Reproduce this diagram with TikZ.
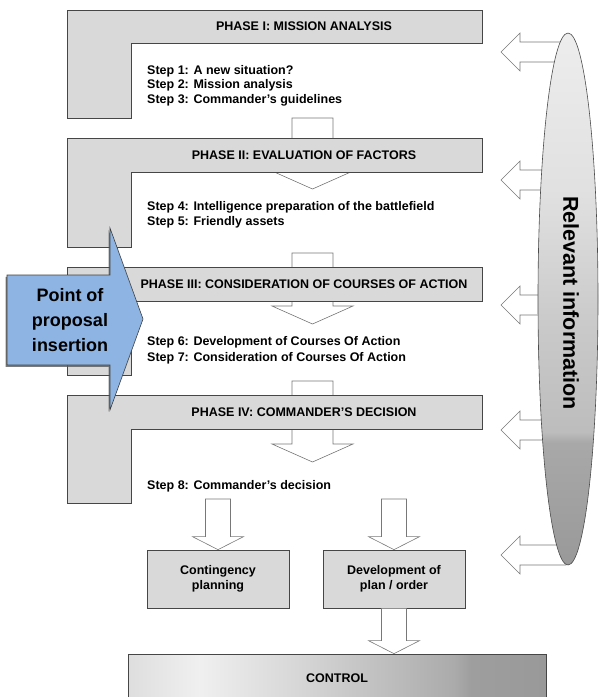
\documentclass[tikz,border=0pt]{standalone}
\usepackage{fontspec}
\setmainfont{Liberation Sans}
\definecolor{phasegray}{RGB}{217, 217, 217}
\definecolor{edgegray}{RGB}{70, 70, 70}
\definecolor{arrowgray}{RGB}{120, 120, 120}
\definecolor{insertblue}{RGB}{141, 180, 226}
\usepackage{tikz}
\usetikzlibrary{shapes.geometric, calc, shadows}

\pgfdeclarehorizontalshading{ctrlshade}{100bp}{color(0bp)=(black!13); color(25bp)=(black!13); color(33.5bp)=(black!6); color(45.5bp)=(black!16); color(57.5bp)=(black!27); color(64bp)=(black!33); color(66bp)=(black!38); color(75bp)=(black!40); color(100bp)=(black!40)}
\pgfdeclareverticalshading{infoshade}{100bp}{color(0bp)=(black!40); color(25bp)=(black!40); color(36.5bp)=(black!34); color(37.5bp)=(black!26); color(47.5bp)=(black!21); color(60bp)=(black!12); color(75bp)=(black!7); color(100bp)=(black!7)}

% L-shaped phase frame: top of bar, bottom of bar, bottom of leg
\newcommand{\phaseshape}[3]{\draw[phasebox] (67,#1) -- (482,#1) -- (482,#2) -- (131,#2) -- (131,#3) -- (67,#3) -- cycle;}
% block arrow: [style]{from}{to}{shaft half width}{head half width}{head length}
\newcommand{\blockarrow}[6][]{%
  \coordinate (hb) at ($(#3)!#6!(#2)$);
  \draw[blockarr, #1] ($(#2)!#4!90:(#3)$) -- ($(hb)!#4!90:(#3)$) -- ($(hb)!#5!90:(#3)$) -- (#3)
    -- ($(hb)!#5!-90:(#3)$) -- ($(hb)!#4!-90:(#3)$) -- ($(#2)!#4!-90:(#3)$) -- cycle;}

\begin{document}
\begin{tikzpicture}[x=1pt, y=-1pt,
  txt/.style={font=\fontsize{12.5}{15}\selectfont\bfseries},
  phasebox/.style={draw=edgegray, fill=phasegray, line width=0.7pt},
  phasetitle/.style={txt, inner sep=0pt},
  stepline/.style={txt, anchor=west, inner sep=0pt, text height=9pt, text depth=0pt},
  subbox/.style={txt, draw=edgegray, fill=phasegray, line width=0.7pt, minimum width=142pt, minimum height=58pt, align=center, inner sep=0pt},
  blockarr/.style={draw=arrowgray, fill=white, line width=0.6pt, line join=miter}]
  \useasboundingbox (0,0) rectangle (603,697);

  % Arrows between phases
  \coordinate (a12) at (312.5,118);  \coordinate (a12e) at (312.5,189);
  \coordinate (a23) at (312.5,253);  \coordinate (a23e) at (312.5,324);
  \coordinate (a34) at (312.5,381);  \coordinate (a34e) at (312.5,462);
  \blockarrow{a12}{a12e}{20.5pt}{40.5pt}{18pt}
  \blockarrow{a23}{a23e}{20.5pt}{40.5pt}{18pt}
  \blockarrow{a34}{a34e}{20.5pt}{40.5pt}{18pt}

  % Information arrows
  \foreach \y [count=\i] in {52, 180, 305, 430, 555} {
    \coordinate (src\i) at (566,\y);
    \coordinate (dst\i) at (501,\y);
    \blockarrow{src\i}{dst\i}{10pt}{19pt}{19pt}
  }

  % Phase I
  \phaseshape{10}{43}{118}
  \node[phasetitle] (ph1) at (304,26.5) {PHASE I: MISSION ANALYSIS};
  \node[stepline] (s1) at (147,70) {Step 1: A new situation?};
  \node[stepline] (s2) at (147,84) {Step 2: Mission analysis};
  \node[stepline] (s3) at (147,98.5) {Step 3: Commander's guidelines};

  % Phase II
  \phaseshape{138}{172}{247}
  \node[phasetitle] (ph2) at (304,155) {PHASE II: EVALUATION OF FACTORS};
  \node[stepline] (s4) at (147,206) {Step 4: Intelligence preparation of the battlefield};
  \node[stepline] (s5) at (147,221) {Step 5: Friendly assets};

  % Phase III
  \phaseshape{267}{301}{375}
  \node[phasetitle] (ph3) at (304,284) {PHASE III: CONSIDERATION OF COURSES OF ACTION};
  \node[stepline] (s6) at (147,341) {Step 6: Development of Courses Of Action};
  \node[stepline] (s7) at (147,357) {Step 7: Consideration of Courses Of Action};

  % Phase IV
  \phaseshape{395}{429}{503}
  \node[phasetitle] (ph4) at (304,412) {PHASE IV: COMMANDER’S DECISION};
  \node[stepline] (s8) at (147,485) {Step 8: Commander's decision};

  % After the decision
  \node[subbox] (cont) at (218,579) {Contingency\\planning};
  \node[subbox] (devplan) at (394,579) {Development of\\plan / order};
  \coordinate (d8l) at (218,499);
  \coordinate (d8r) at (394,499);
  \blockarrow{d8l}{cont.north}{12.5pt}{25.5pt}{13pt}
  \blockarrow{d8r}{devplan.north}{12.5pt}{25.5pt}{13pt}

  % Control
  \node[txt, draw=edgegray, line width=0.7pt, shading=ctrlshade, minimum width=418pt, minimum height=48pt, inner sep=0pt] (ctrl) at (337,678) {CONTROL};
  \blockarrow{devplan.south}{devplan.south |- ctrl.north}{12.5pt}{25.5pt}{13pt}

  % Relevant information
  \node[ellipse, draw=black!70, line width=0.6pt, shading=infoshade, minimum width=60pt, minimum height=532pt, inner sep=0pt] (info) at (568,299) {};
  \node[txt, font=\fontsize{21.5}{25}\selectfont\bfseries, rotate=-90] (infolbl) at ($(info.center)+(3,4)$) {Relevant information};

  % Point of insertion
  \draw[draw=black!75, fill=insertblue, line width=0.6pt, drop shadow={shadow xshift=-1.5pt, shadow yshift=-1.8pt, fill=black!65, opacity=0.8}]
    (7,275) -- (110,275) -- (110,228) -- (143,319) -- (110,410) -- (110,365) -- (7,365) -- cycle;
  \node[font=\fontsize{18}{25}\selectfont\bfseries, align=center] (insert) at (70,320) {Point of\\proposal\\insertion};
\end{tikzpicture}
\end{document}
